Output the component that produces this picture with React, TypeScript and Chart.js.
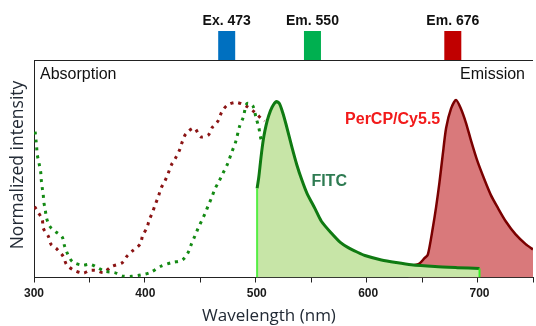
import React, { useEffect, useRef } from 'react';
import { Chart, registerables } from 'chart.js';

Chart.register(...registerables);

// ---- axis ranges / ticks ----
const X_MIN = 300;
const X_MAX = 748;
const Y_MAX = 1.237;
const xTickLabels = [300, 400, 500, 600, 700];

// ---- FITC absorption (dotted green) ----
const fitcAbsWl = [301.0, 301.8, 302.4, 302.9, 304.5, 306.0, 306.5, 307.4, 308.3, 308.8, 310.1, 311.3, 314.3, 319.6, 325.3, 327.4, 330.1, 334.6, 343.1, 350.6, 357.4, 363.4, 372.3, 379.7, 387.8, 396.2, 404.2, 414.0, 423.8, 433.3, 438.7, 441.3, 444.4, 447.3, 450.6, 453.6, 456.5, 459.6, 462.5, 466.1, 469.6, 473.5, 477.4, 481.0, 484.6, 487.8, 491.3, 496.4, 499.4, 501.8, 503.3, 504.7];
const fitcAbsInt = [0.83, 0.78, 0.74, 0.70, 0.65, 0.60, 0.557, 0.51, 0.47, 0.43, 0.385, 0.337, 0.29, 0.26, 0.23, 0.18, 0.135, 0.09, 0.07, 0.075, 0.055, 0.036, 0.028, 0.008, 0.007, 0.015, 0.028, 0.064, 0.085, 0.10, 0.146, 0.19, 0.235, 0.28, 0.324, 0.365, 0.41, 0.456, 0.504, 0.547, 0.593, 0.642, 0.71, 0.77, 0.86, 0.91, 0.99, 0.977, 0.907, 0.854, 0.80, 0.77];

// ---- PerCP/Cy5.5 absorption (dotted dark red) ----
const percpAbsWl = [300.5, 303.8, 307.4, 308.3, 312.8, 315.2, 320.8, 326.2, 329.2, 335.1, 344.0, 350.0, 356.0, 362.5, 369.4, 379.2, 383.3, 388.7, 395.3, 397.6, 401.2, 403.6, 406.0, 408.9, 411.6, 414.0, 417.6, 420.5, 423.5, 427.4, 431.0, 433.3, 436.3, 443.8, 449.7, 456.5, 460.1, 465.2, 468.5, 473.5, 481.5, 489.9, 498.2, 504.7, 507.0];
const percpAbsInt = [0.403, 0.37, 0.33, 0.28, 0.235, 0.19, 0.16, 0.12, 0.074, 0.044, 0.025, 0.04, 0.04, 0.028, 0.062, 0.084, 0.12, 0.153, 0.19, 0.24, 0.28, 0.33, 0.365, 0.415, 0.46, 0.507, 0.55, 0.593, 0.642, 0.683, 0.73, 0.775, 0.816, 0.85, 0.80, 0.81, 0.854, 0.89, 0.94, 0.98, 0.996, 0.977, 0.94, 0.90, 0.89];

// ---- FITC emission (solid green, filled 500-700) ----
const fitcEmWl = [500.3, 501.8, 503.3, 504.7, 506.3, 508.3, 510.7, 513.7, 517.5, 520.3, 523.2, 526.2, 531.5, 536.0, 540.5, 545.0, 552.4, 558.0, 567.3, 575.0, 582.1, 590.0, 597.1, 611.9, 625.0, 638.7, 660.0, 680.0, 700.0];
const fitcEmInt = [0.507, 0.57, 0.655, 0.73, 0.80, 0.864, 0.92, 0.968, 1.0, 0.99, 0.94, 0.873, 0.743, 0.64, 0.554, 0.48, 0.39, 0.32, 0.25, 0.20, 0.17, 0.145, 0.125, 0.10, 0.085, 0.072, 0.062, 0.056, 0.051];

// ---- PerCP/Cy5.5 emission (solid dark red, filled) ----
const percpEmWl = [636.0, 641.0, 646.1, 650.6, 653.6, 658.0, 661.0, 664.0, 667.0, 670.0, 674.4, 678.9, 683.3, 687.8, 692.3, 698.2, 704.2, 710.1, 716.1, 723.5, 732.4, 741.4, 748.0];
const percpEmInt = [0.066, 0.07, 0.08, 0.11, 0.13, 0.28, 0.40, 0.54, 0.70, 0.85, 0.96, 1.01, 0.96, 0.88, 0.78, 0.66, 0.56, 0.47, 0.40, 0.32, 0.245, 0.19, 0.16];

// ---- laser / detector markers ----
const markerWl = [473, 550, 676];
const markerLabels = ['Ex. 473', 'Em. 550', 'Em. 676'];
const markerColors = ['#0070c0', '#00b050', '#c00000'];

// ---- annotations ----
const fitcLabelPos = [565, 0.548];
const percpLabelPos = [622, 0.897];

const pts = (xs: number[], ys: number[]) => xs.map((x, i) => ({ x, y: ys[i] }));

const decorPlugin = {
  id: 'decor',
  afterDraw(chart: any) {
    const { ctx, chartArea } = chart;
    const xs = chart.scales.x;
    const ys = chart.scales.y;
    const { left, right, top, bottom } = chartArea;
    ctx.save();
    // top frame line
    ctx.strokeStyle = '#222';
    ctx.lineWidth = 1;
    ctx.beginPath();
    ctx.moveTo(left, Math.round(top) + 0.5);
    ctx.lineTo(right, Math.round(top) + 0.5);
    ctx.stroke();

    // x tick labels
    ctx.fillStyle = '#1a1a1a';
    ctx.font = 'bold 12px "Liberation Sans", Arial, sans-serif';
    ctx.textAlign = 'center';
    ctx.textBaseline = 'middle';
    xTickLabels.forEach((v) => {
      ctx.fillText(String(v), xs.getPixelForValue(v), bottom + 16.5);
    });

    // markers above the plot
    markerWl.forEach((wl, i) => {
      const px = xs.getPixelForValue(wl);
      ctx.fillStyle = markerColors[i];
      ctx.fillRect(px - 8.5, top - 29, 17, 29);
      ctx.fillStyle = '#111';
      ctx.font = 'bold 14px "Liberation Sans", Arial, sans-serif';
      ctx.textAlign = 'center';
      ctx.textBaseline = 'middle';
      ctx.fillText(markerLabels[i], px, 21);
    });

    // corner labels
    ctx.fillStyle = '#111';
    ctx.font = '16px "Liberation Sans", Arial, sans-serif';
    ctx.textBaseline = 'middle';
    ctx.textAlign = 'left';
    ctx.fillText('Absorption', left + 6, top + 15);
    ctx.textAlign = 'right';
    ctx.fillText('Emission', 525, top + 15);

    // dye labels
    ctx.font = 'bold 16px "Liberation Sans", Arial, sans-serif';
    ctx.textAlign = 'center';
    ctx.fillStyle = '#2e7b52';
    ctx.fillText('FITC', xs.getPixelForValue(fitcLabelPos[0]), ys.getPixelForValue(fitcLabelPos[1]));
    ctx.fillStyle = '#f21a1a';
    ctx.fillText('PerCP/Cy5.5', xs.getPixelForValue(percpLabelPos[0]), ys.getPixelForValue(percpLabelPos[1]));

    // axis titles
    ctx.fillStyle = '#222a35';
    ctx.font = '17px "Open Sans", sans-serif';
    ctx.textAlign = 'center';
    ctx.fillText('Wavelength (nm)', 269, 316);
    ctx.translate(18, 165);
    ctx.rotate(-Math.PI / 2);
    ctx.font = '17.5px "Open Sans", sans-serif';
    ctx.fillText('Normalized intensity', 0, 0);
    ctx.restore();
  },
};

export default function App() {
  const ref = useRef<HTMLCanvasElement | null>(null);
  useEffect(() => {
    document.body.style.margin = '0';
    const canvas = ref.current!;
    const chart = new Chart(canvas, {
      type: 'line',
      data: {
        datasets: [
          {
            label: 'PerCP/Cy5.5 emission',
            data: pts(percpEmWl, percpEmInt),
            borderColor: '#7a0000',
            borderWidth: 2.5,
            backgroundColor: '#d9797b',
            fill: 'origin',
            pointRadius: 0,
            tension: 0.25,
            order: 6,
          },
          {
            label: 'FITC emission',
            data: pts(fitcEmWl, fitcEmInt),
            borderColor: '#0f7a12',
            borderWidth: 3,
            backgroundColor: '#c7e5a7',
            fill: 'origin',
            pointRadius: 0,
            tension: 0.25,
            order: 5,
          },
          {
            label: 'FITC left edge',
            data: [
              { x: fitcEmWl[0], y: 0 },
              { x: fitcEmWl[0], y: fitcEmInt[0] },
            ],
            borderColor: '#55ee44',
            borderWidth: 2,
            pointRadius: 0,
            fill: false,
            order: 4,
          },
          {
            label: 'FITC right edge',
            data: [
              { x: fitcEmWl[fitcEmWl.length - 1], y: 0 },
              { x: fitcEmWl[fitcEmWl.length - 1], y: fitcEmInt[fitcEmInt.length - 1] },
            ],
            borderColor: '#33ee22',
            borderWidth: 2,
            pointRadius: 0,
            fill: false,
            order: 4,
          },
          {
            label: 'PerCP/Cy5.5 absorption',
            data: pts(percpAbsWl, percpAbsInt),
            borderColor: '#8b1414',
            borderWidth: 3,
            borderDash: [3, 5],
            pointRadius: 0,
            fill: false,
            tension: 0.3,
            order: 3,
          },
          {
            label: 'FITC absorption',
            data: pts(fitcAbsWl, fitcAbsInt),
            borderColor: '#148a14',
            borderWidth: 3,
            borderDash: [3, 5],
            pointRadius: 0,
            fill: false,
            tension: 0.3,
            order: 2,
          },
        ],
      },
      options: {
        animation: false,
        responsive: false,
        maintainAspectRatio: false,
        layout: { padding: { top: 60, right: 0, bottom: 0, left: 0 } },
        plugins: { legend: { display: false }, tooltip: { enabled: false } },
        scales: {
          x: {
            type: 'linear',
            min: X_MIN,
            max: X_MAX,
            afterFit: (s: any) => {
              s.height = 48.5;
            },
            border: { display: true, color: '#222', width: 1 },
            grid: { display: true, drawOnChartArea: false, drawTicks: true, tickLength: 5, color: '#222' },
            ticks: {
              stepSize: 50,
              includeBounds: false,
              autoSkip: false,
              maxRotation: 0,
              padding: 3,
              callback: () => '',
            },
          },
          y: {
            type: 'linear',
            min: 0,
            max: Y_MAX,
            afterFit: (s: any) => {
              s.width = 34;
            },
            border: { display: true, color: '#222', width: 1 },
            grid: { display: false, drawTicks: false },
            ticks: { display: false },
          },
        },
      },
      plugins: [decorPlugin],
    } as any);
    return () => chart.destroy();
  }, []);
  return <canvas ref={ref} width={536} height={326} style={{ display: 'block' }} />;
}
